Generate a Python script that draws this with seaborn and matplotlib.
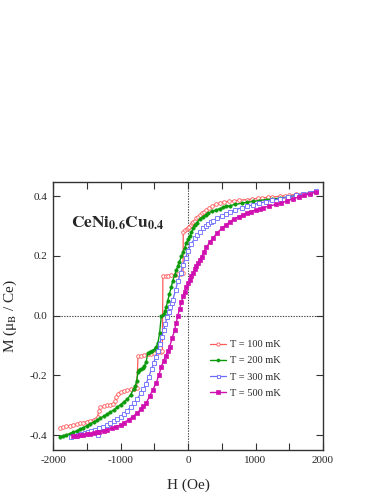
import numpy as np
import pandas as pd
import matplotlib
matplotlib.use("Agg")
import matplotlib.pyplot as plt
import seaborn as sns

# ---- data ----
H_100 = [-1900, -1850, -1800, -1750, -1700, -1650, -1600, -1550, -1500, -1450, -1400, -1360,
         -1340, -1320, -1300, -1250, -1200, -1150, -1110, -1080, -1060, -1040, -1000, -950,
         -900, -850, -800, -760, -740, -700, -650, -600, -550, -500, -450, -400, -380,
         -372, -330, -290, -250, -200, -150, -100, -74, -70, -40, -20, 0, 20, 40, 60, 80,
         100, 125, 150, 175, 200, 235, 273, 310, 350, 410, 471, 530, 600, 680, 750, 868,
         950, 1030, 1100, 1180, 1250, 1362, 1430, 1500, 1600, 1700, 1800, 1900]
M_100 = [-0.375, -0.373, -0.371, -0.368, -0.366, -0.363, -0.361, -0.358, -0.355, -0.352, -0.349, -0.346,
         -0.338, -0.318, -0.306, -0.303, -0.300, -0.298, -0.295, -0.285, -0.272, -0.262, -0.255, -0.252,
         -0.249, -0.247, -0.245, -0.243, -0.137, -0.134, -0.132, -0.130, -0.128, -0.126, -0.123, -0.121, -0.119,
         0.131, 0.133, 0.134, 0.135, 0.137, 0.138, 0.139, 0.141, 0.281, 0.285, 0.289, 0.292, 0.297, 0.302, 0.309, 0.314,
         0.318, 0.325, 0.331, 0.337, 0.342, 0.348, 0.354, 0.360, 0.366, 0.372, 0.377, 0.380, 0.382, 0.384, 0.386, 0.388,
         0.390, 0.392, 0.394, 0.396, 0.397, 0.399, 0.401, 0.402, 0.406, 0.408, 0.411, 0.415]

H_200 = [-1900, -1850, -1800, -1750, -1700, -1650, -1600, -1550, -1500, -1450, -1400, -1350,
         -1300, -1250, -1200, -1150, -1100, -1050, -1000, -950, -900, -850, -800, -780, -760,
         -740, -720, -700, -670, -645, -620, -595, -570, -540, -495, -470, -446, -421, -396,
         -360, -340, -321, -300, -275, -247, -225, -200, -172, -150, -130, -98, -75, -50, -24,
         0, 25, 50, 74, 100, 130, 174, 223, 260, 300, 360, 422, 470, 520, 570, 620, 700, 800,
         880, 966, 1050, 1150, 1250, 1362, 1480, 1600, 1700, 1800, 1900]
M_200 = [-0.405, -0.402, -0.399, -0.395, -0.391, -0.386, -0.380, -0.375, -0.369, -0.363, -0.357, -0.350,
         -0.343, -0.337, -0.330, -0.323, -0.316, -0.307, -0.298, -0.289, -0.280, -0.265, -0.245, -0.235, -0.218,
         -0.188, -0.183, -0.180, -0.176, -0.168, -0.154, -0.126, -0.122, -0.118, -0.113, -0.104, -0.092, -0.059, -0.003,
         0.005, 0.015, 0.030, 0.050, 0.072, 0.097, 0.117, 0.135, 0.153, 0.166, 0.178, 0.198, 0.212, 0.226, 0.243,
         0.255, 0.266, 0.278, 0.292, 0.302, 0.311, 0.322, 0.331, 0.337, 0.343, 0.349, 0.354, 0.358, 0.362, 0.365, 0.368, 0.372, 0.376,
         0.379, 0.382, 0.385, 0.388, 0.390, 0.393, 0.397, 0.402, 0.405, 0.409, 0.413]

H_300 = [-1730, -1680, -1630, -1580, -1530, -1480, -1430, -1380, -1337, -1312, -1260, -1200,
         -1150, -1100, -1050, -1000, -950, -900, -850, -800, -750, -700, -660, -620, -580, -540,
         -510, -480, -450, -421, -390, -360, -335, -310, -285, -260, -240, -223, -185, -149,
         -110, -74, -37, 0, 50, 99, 135, 174, 223, 260, 300, 335, 372, 430, 500, 560, 620, 700,
         800, 880, 966, 1050, 1150, 1250, 1362, 1480, 1600, 1700, 1800, 1900]
M_300 = [-0.405, -0.402, -0.399, -0.396, -0.393, -0.390, -0.386, -0.383, -0.401, -0.378, -0.372, -0.366,
         -0.360, -0.354, -0.346, -0.338, -0.329, -0.318, -0.306, -0.293, -0.278, -0.260, -0.245, -0.228, -0.205, -0.180,
         -0.160, -0.140, -0.118, -0.095, -0.071, -0.048, -0.027, -0.005, 0.013, 0.030, 0.043, 0.053, 0.085, 0.115,
         0.143, 0.170, 0.193, 0.215, 0.240, 0.258, 0.268, 0.278, 0.292, 0.299, 0.306, 0.312, 0.318, 0.326, 0.334, 0.341, 0.347, 0.354,
         0.361, 0.366, 0.371, 0.376, 0.381, 0.386, 0.391, 0.397, 0.402, 0.407, 0.411, 0.418]

H_500 = [-1700, -1650, -1600, -1550, -1500, -1450, -1400, -1350, -1312, -1250, -1200, -1130,
         -1064, -1000, -950, -880, -817, -760, -700, -660, -619, -569, -520, -470, -430, -396,
         -360, -330, -300, -272, -235, -198, -175, -150, -125, -98, -74, -50, -25, 0, 25, 50,
         75, 100, 125, 149, 174, 200, 235, 273, 320, 372, 430, 500, 560, 620, 680, 750, 810,
         868, 930, 1000, 1060, 1115, 1200, 1300, 1380, 1462, 1550, 1650, 1720, 1800, 1900]
M_500 = [-0.404, -0.402, -0.400, -0.399, -0.397, -0.395, -0.393, -0.391, -0.389, -0.386, -0.382, -0.377,
         -0.372, -0.366, -0.358, -0.349, -0.338, -0.327, -0.314, -0.304, -0.293, -0.270, -0.248, -0.225, -0.198, -0.171,
         -0.152, -0.135, -0.120, -0.104, -0.076, -0.048, -0.024, 0.000, 0.022, 0.045, 0.064, 0.080, 0.095, 0.108, 0.120, 0.132,
         0.144, 0.155, 0.166, 0.176, 0.186, 0.197, 0.212, 0.228, 0.245, 0.260, 0.276, 0.292, 0.303, 0.314, 0.323, 0.331, 0.337,
         0.343, 0.348, 0.353, 0.357, 0.361, 0.366, 0.372, 0.377, 0.383, 0.390, 0.398, 0.402, 0.407, 0.415]

labels = ["T = 100 mK", "T = 200 mK", "T = 300 mK", "T = 500 mK"]
colors = ["#ff5a5a", "#0a9a0a", "#6a6aff", "#d010b0"]

sns.set_style("ticks")
plt.rcParams["font.family"] = ["Liberation Serif", "DejaVu Serif"]
plt.rcParams["mathtext.fontset"] = "stix"

fig = plt.figure(figsize=(3.82, 4.94), dpi=100)
ax = fig.add_axes([53 / 382, 1 - 450 / 494, 270 / 382, 268 / 494])

series = [(H_100, M_100), (H_200, M_200), (H_300, M_300), (H_500, M_500)]
styles = [
    dict(marker="o", markersize=2.6, markerfacecolor="white", markeredgewidth=0.6, linewidth=0.9),
    dict(marker="o", markersize=2.4, markeredgewidth=0.5, linewidth=1.0),
    dict(marker="s", markersize=2.4, markerfacecolor="white", markeredgewidth=0.6, linewidth=0.9),
    dict(marker="s", markersize=2.6, markeredgewidth=0.5, linewidth=1.0),
]
for (h, m), lab, c, st in zip(series, labels, colors, styles):
    df = pd.DataFrame({"H": h, "M": m})
    kw = dict(st)
    kw.setdefault("markerfacecolor", c)
    sns.lineplot(data=df, x="H", y="M", ax=ax, color=c, markeredgecolor=c,
                 sort=False, label=lab, **kw)

ax.axhline(0, color="#444444", linestyle=(0, (1.2, 1.2)), linewidth=0.8, zorder=0)
ax.axvline(0, color="#444444", linestyle=(0, (1.2, 1.2)), linewidth=0.8, zorder=0)

ax.set_xlim(-2000, 2000)
ax.set_ylim(-0.45, 0.447)
ax.set_xticks([-2000, -1000, 0, 1000, 2000])
ax.set_xticks([-1500, -500, 500, 1500], minor=True)
ax.set_yticks([-0.4, -0.2, 0.0, 0.2, 0.4])
ax.set_xticklabels(["-2000", "-1000", "0", "1000", "2000"])
ax.set_yticklabels(["-0.4", "-0.2", "0.0", "0.2", "0.4"])
ax.tick_params(which="both", direction="in", top=True, right=True, length=4.8, width=0.8,
               labelsize=8, color="#333333", pad=4)
for s in ax.spines.values():
    s.set_linewidth(1.0)
    s.set_color("#333333")

ax.set_xlabel("H (Oe)", fontsize=11, labelpad=10)
ax.set_ylabel(r"M (μ$_\mathrm{B}$ / Ce)", fontsize=11, labelpad=8)

ax.text(0.065, 0.845, r"$\mathbf{CeNi_{0.6}Cu_{0.4}}$", transform=ax.transAxes,
        fontsize=12.5, ha="left", va="center")

ax.legend(loc="upper left", bbox_to_anchor=(0.58, 0.41), frameon=False, fontsize=7.5,
          handlelength=1.6, handletextpad=0.4, labelspacing=0.65, borderpad=0,
          borderaxespad=0, markerscale=0.9)

fig.savefig("out.png", dpi=100)
